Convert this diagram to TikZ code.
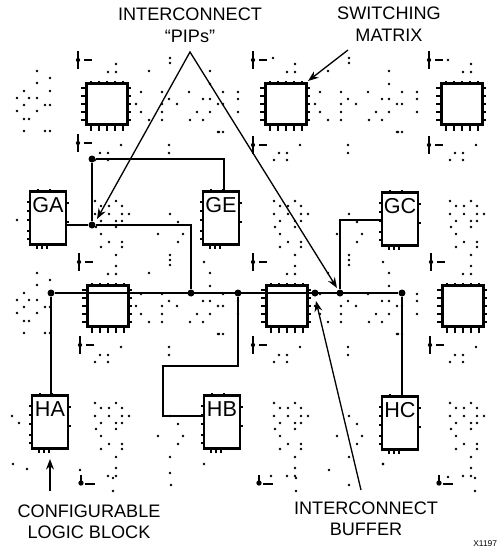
\documentclass[tikz,border=0pt]{standalone}
\usepackage{fontspec}
\setmainfont{Liberation Sans}
\usetikzlibrary{arrows.meta}

% dot offsets, measured from the centre of a switching matrix
\newcommand{\topdots}{8/-40,0/-32,8/-32}
\newcommand{\lowdots}{13/41,-8/49,0/49,-13/56,0/56}
\newcommand{\clbdots}{-13/97,8/97,-7/102,1/102,14/102,-13/110,1/110,14/110,21/110,-7/117,8/117,14/117,-12/123,8/123,-7/130,1/138,14/138,14/143,-7/143,8/151}
\newcommand{\hordots}{33/-12,54/-12,81/-12,115/-12,130/-12,28/0,54/0,61/-5,69/0,95/-5,102/-5,110/0,115/0,130/-5,33/8,54/8,89/8,102/8,130/8,41/16,54/16,82/16,95/16,110/28,115/28}
\newcommand{\middots}{41/-33,62/-46,62/-41,102/-33,102/-20,61/41,61/49,62/110,70/118,50/130,75/130,70/138,62/151,96/158,111/28}
\newcommand{\leftdots}{-71/-33,-58/-26,-71/-21,-84/-13,-58/-13,-91/-6,-79/-6,-71/-6,-84/1,-63/1,-58/1,-91/7,-71/7,-84/15,-79/15,-84/27,-63/27,-58/27}

\begin{document}
\begin{tikzpicture}[%
    x=0.02cm,y=-0.02cm,
    pdot/.style={fill=black},
    pmatrix/.style={draw,line width=1.3pt,fill=white,minimum size=0.82cm,inner sep=0pt},
    clb/.style={draw,line width=1.2pt,fill=white,minimum width=0.72cm,minimum height=1.06cm,inner sep=0pt},
    clbname/.style={inner sep=0pt,font=\fontsize{12.3}{13}\selectfont},
    junction/.style={circle,fill=black,minimum size=0.14cm,inner sep=0pt},
    wire/.style={line width=1.1pt},
    pin/.style={line width=0.9pt},
    callout/.style={line width=0.75pt,-{Stealth[length=6pt,width=4.5pt]}},
    title/.style={align=center,inner sep=0pt,font=\fontsize{10.3}{12.2}\selectfont}
  ]
		\path[use as bounding box,clip] (0,0) rectangle (500,552);

		% dot field
		\foreach \cx/\cy in {108/104,287/104,463/104,108/306,287/306,463/306}{
			\foreach \dx/\dy in \lowdots
				\fill[pdot] ({\cx+\dx},{\cy+\dy}) circle (0.8pt);
			\foreach \dx/\dy in \clbdots
				\fill[pdot] ({\cx+\dx},{\cy+\dy}) circle (0.8pt);
		}
		\foreach \cx/\cy in {108/104,287/104,463/104,108/306,287/306,463/306,108/508,287/508,463/508}{
			\foreach \dx/\dy in \topdots
				\fill[pdot] ({\cx+\dx},{\cy+\dy}) circle (0.8pt);
		}
		\foreach \cx/\cy in {108/104,287/104,108/306,287/306}{
			\foreach \dx/\dy in \hordots
				\fill[pdot] ({\cx+\dx},{\cy+\dy}) circle (0.8pt);
			\foreach \dx/\dy in \middots
				\fill[pdot] ({\cx+\dx},{\cy+\dy}) circle (0.8pt);
		}
		\foreach \cy in {104,306}{
			\foreach \dx/\dy in \leftdots
				\fill[pdot] ({108+\dx},{\cy+\dy}) circle (0.8pt);
		}
		\foreach \px/\py in {273/58,448/60,17/220,12/416,19/423,13/464,27/469,113/478,113/491,296/478,296/491,349/485,329/470,383/464,
			170/473,171/485,80/470,475/478,475/491,271/476,448/477}
			\fill[pdot] (\px,\py) circle (0.8pt);

		% pin marks in the channels
		\foreach \px/\py in {78/60,78/143,79/262,80/345,253/60,253/145,253/262,253/345,429/60,429/145,431/262,430/345}{
			\draw[line width=1.3pt] (\px,{\py-9}) -- (\px,{\py+9});
			\draw[line width=1pt] ({\px+6},\py) -- ({\px+14},\py);
			\fill ({\px},\py) circle (1.2pt);
		}
		\foreach \px in {81,259,439}{
			\draw[line width=1.1pt] (\px,475) -- (\px,483);
			\draw[line width=1pt] ({\px+4},484) -- ({\px+14},484);
			\fill (\px,483) circle (1.5pt);
		}

		% switching matrices
		\foreach \name/\cx/\cy in {ma/107/104,mb/286/104,mc/462/104,md/108/306,me/287/306,mf/463/306}{
			\foreach \i in {-16,-8,0,8,16}{
				\draw[pin] ({\cx+\i},{\cy-21}) -- ({\cx+\i},{\cy-23});
				\draw[pin] ({\cx+\i},{\cy+21}) -- ({\cx+\i},{\cy+27});
				\draw[pin] ({\cx-21},{\cy+\i}) -- ({\cx-26},{\cy+\i});
				\draw[pin] ({\cx+21},{\cy+\i}) -- ({\cx+24},{\cy+\i});
			}
			\node at (\cx,\cy) [pmatrix] (\name) {};
		}

		% logic blocks
		\foreach \name/\cx/\cy/\txt in {ga/48/218/GA,ge/221/218/GE,gc/400/219/GC,ha/50/422/HA,hb/222/422/HB,hc/400/423/HC}{
			\foreach \i in {-16,-7,2,13,21}
				\draw[pin] ({\cx-18},{\cy+\i}) -- ({\cx-21},{\cy+\i});
			\foreach \i in {-15,4}
				\draw[pin] ({\cx+18},{\cy+\i}) -- ({\cx+21},{\cy+\i});
			\foreach \i in {-10,2}
				\draw[pin] ({\cx+\i},{\cy-26}) -- ({\cx+\i},{\cy-29});
			\foreach \i in {-11,-6,-1}
				\draw[pin] ({\cx+\i},{\cy+26}) -- ({\cx+\i},{\cy+31});
			\node at (\cx,\cy) [clb] (\name) {};
			\node at (\cx,{\cy-13}) [clbname] (\name name) {\txt};
		}

		% junctions
		\node at (92,159) [junction] (j1) {};
		\node at (92,225) [junction] (j2) {};
		\node at (51,293) [junction] (j3) {};
		\node at (191,293) [junction] (j4) {};
		\node at (238,293) [junction] (j5) {};
		\node at (315,293) [junction] (j6) {};
		\node at (340,293) [junction] (j7) {};
		\node at (402,293) [junction] (j8) {};

		\coordinate (gebend) at (224,159);
		\coordinate (gabend) at (191,225);
		\coordinate (hbbend) at (163,366);
		\coordinate (hbend) at (163,416);
		\coordinate (gcbend) at (340,220);

		% wires
		\draw[wire] (j3) -- (j8);
		\draw[wire] (j1) -- (j2);
		\draw[wire] (j1) -- (gebend) -- (gebend |- ge.north);
		\draw[wire] (ga.east |- j2) -- (j2) -- (gabend) -- (j4);
		\draw[wire] (j3) -- (j3 |- ha.north);
		\draw[wire] (j5) -- (j5 |- hbbend) -- (hbbend) -- (hbend) -- (hb.west |- hbend);
		\draw[wire] (j7) -- (gcbend) -- (gc.west |- gcbend);
		\draw[wire] (j8) -- (j8 |- hc.north);

		% labels
		\node at (190,14) [title] (pipstop) {INTERCONNECT};
		\node at (190,36) [title] (pipsname) {``PIPs''};
		\node at (389,24) [title] (swname) {SWITCHING\\MATRIX};
		\node at (89,522) [title] (clbtitle) {CONFIGURABLE\\LOGIC BLOCK};
		\node at (366,519) [title] (buftitle) {INTERCONNECT\\BUFFER};
		\node at (473,544) [anchor=west,inner sep=0pt,font=\fontsize{4.8}{6}\selectfont] (figno) {X1197};

		% callouts
		\coordinate (apex) at (190,52);
		\coordinate (pipleft) at (97,219);
		\coordinate (pipright) at (337,288);
		\coordinate (swfoot) at (348,50);
		\coordinate (swtip) at (308,81);
		\coordinate (buffoot) at (361,490);
		\coordinate (buftip) at (316,301);
		\coordinate (clbfoot) at (50,491);
		\coordinate (clbtip) at (50,459);

		\draw[callout,{Stealth[length=6pt,width=4.5pt]}-{Stealth[length=6pt,width=4.5pt]}] (pipleft) -- (apex) -- (pipright);
		\draw[callout] (swfoot) -- (swtip);
		\draw[callout] (buffoot) -- (buftip);
		\draw[callout] (clbfoot) -- (clbtip);
	\end{tikzpicture}
\end{document}
